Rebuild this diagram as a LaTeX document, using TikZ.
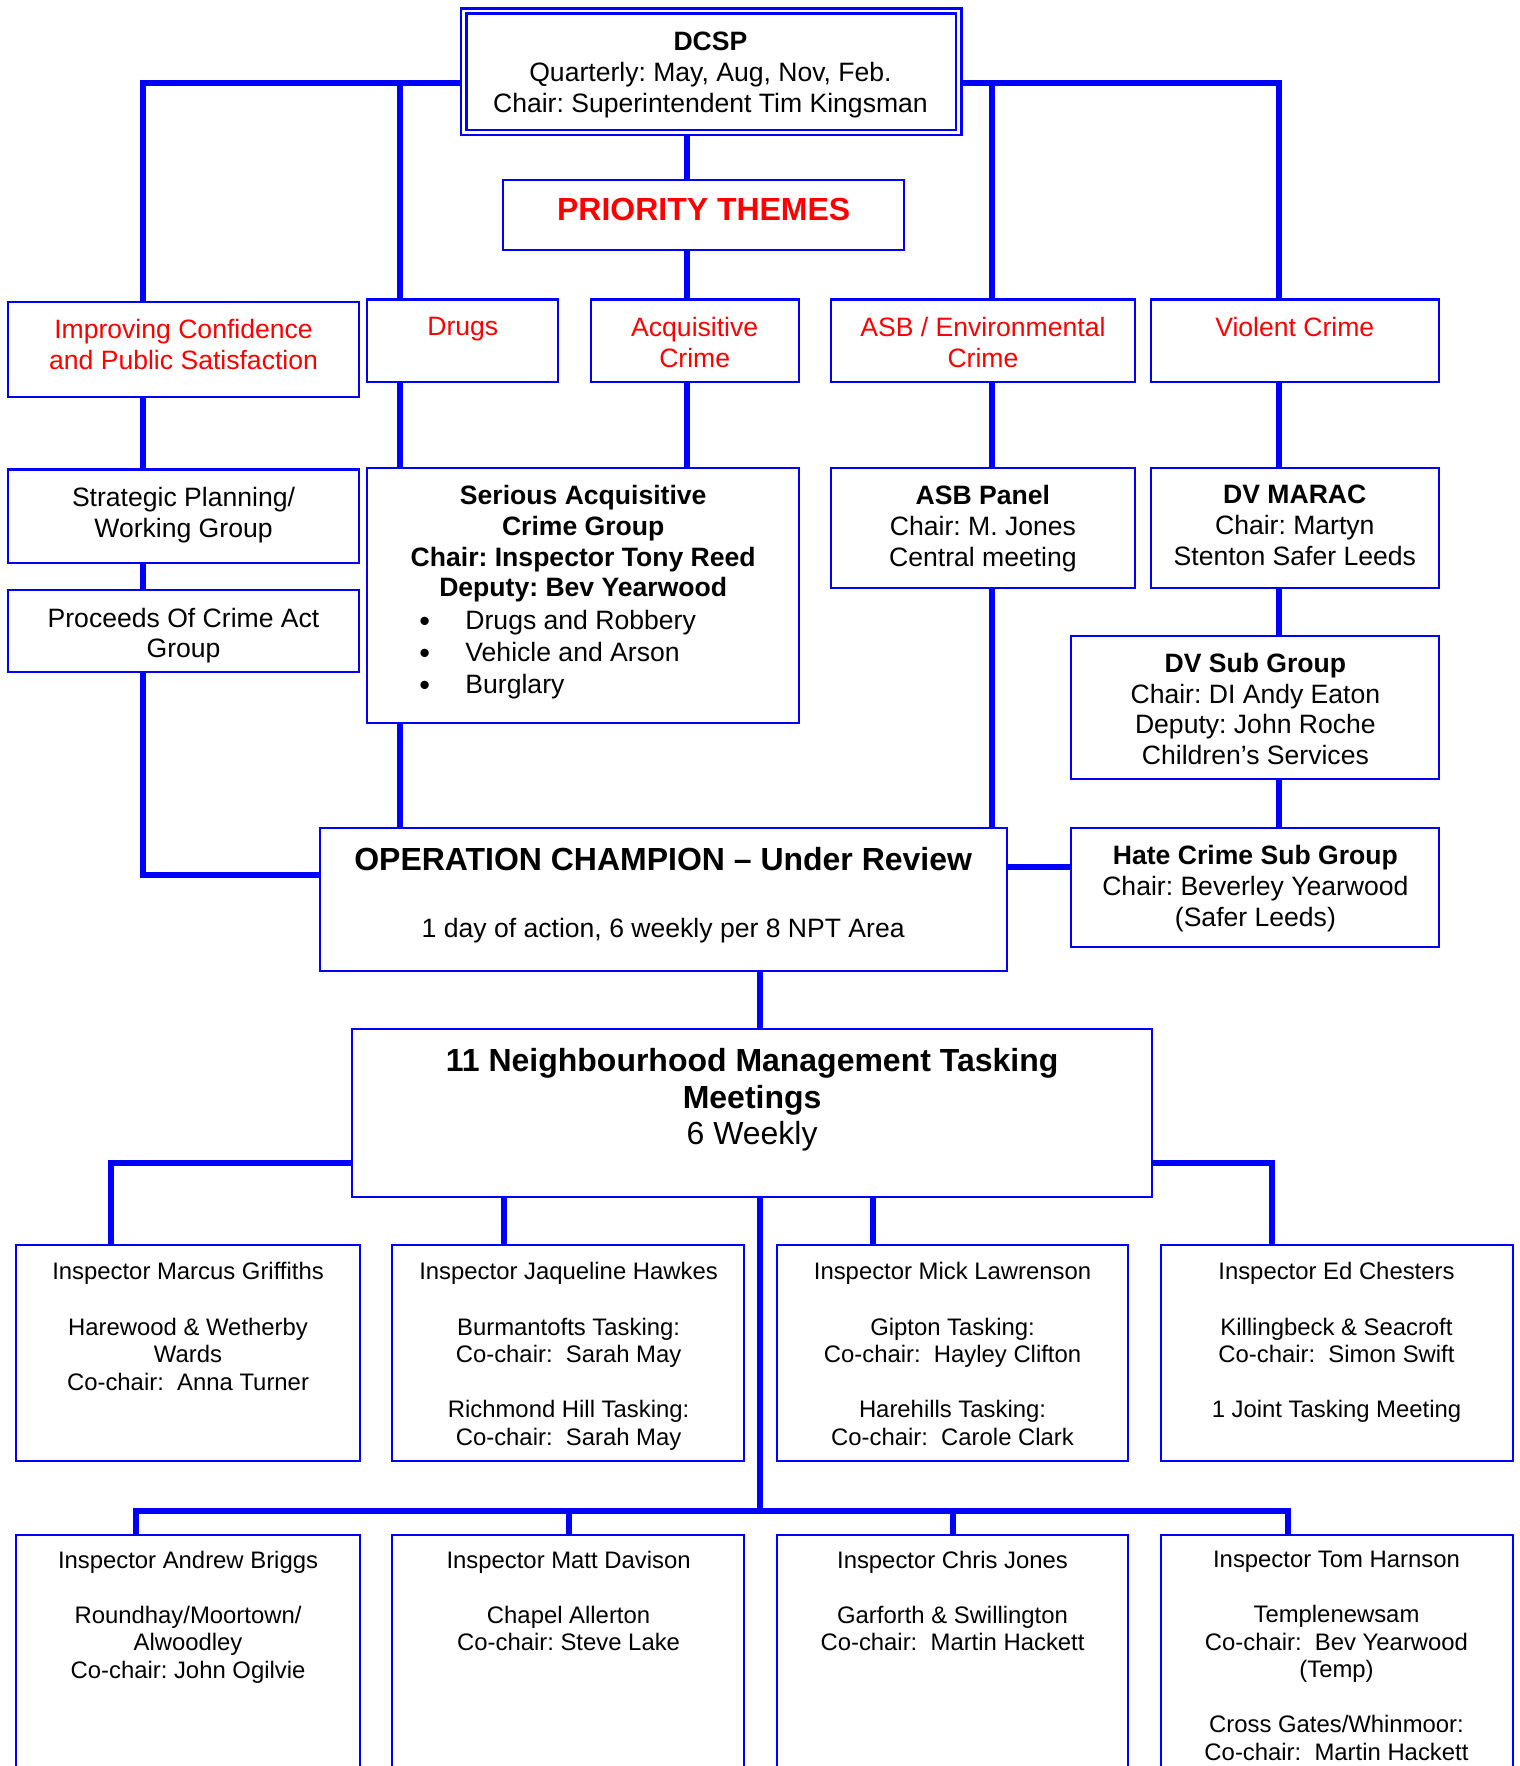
\documentclass[tikz,border=0pt]{standalone}
\usepackage{fontspec}
\usepackage{graphicx}
\setmainfont{Liberation Sans}
\usetikzlibrary{fit,calc}
\definecolor{lnblue}{RGB}{0,0,255}
\definecolor{thred}{RGB}{255,0,0}
\newcommand{\setfs}[2]{\fontsize{#1}{#2}\selectfont}
\newcommand{\bigbul}{\makebox[20.5pt][l]{\smash{\raisebox{-0.08em}{\scalebox{1.15}{\textbullet}}}}}
\frenchspacing
\begin{document}
\begin{tikzpicture}[x=0.5pt,y=-0.5pt,
  bx/.style={draw=lnblue,line width=0.9pt,inner sep=0pt,fit={#1}},
  conn/.style={draw=lnblue,line width=2.67pt},
  t/.style={inner sep=0pt,anchor=north,align=center,font=\setfs{11.8}{13.7}},
  tb/.style={t,font=\setfs{11.8}{13.7}\bfseries},
  tr/.style={t,text=thred},
  tins/.style={inner sep=0pt,anchor=north,align=center,font=\setfs{10.6}{12.25}}]
\useasboundingbox (0,0) rectangle (1350,1568.5);
\clip (0,0) rectangle (1350,1568.5);

% ---------- boxes ----------
\node[bx={(409.6,7.4) (854,120)},line width=1.1pt] (dcsp) {};
\draw[lnblue,line width=1.1pt] ($(dcsp.north west)+(5.8,5.8)$) rectangle ($(dcsp.south east)+(-5.8,-5.8)$);
\node[bx={(447,160) (803,222)}] (prio) {};
\node[bx={(7,268) (319,353)}] (improve) {};
\node[bx={(326,266) (496,339)}] (drugs) {};
\node[bx={(525,266) (710,339)}] (acq) {};
\node[bx={(738,266) (1008,339)}] (asb) {};
\node[bx={(1022,266) (1278,339)}] (violent) {};
\node[bx={(7,417) (319,500)}] (strat) {};
\node[bx={(7,524) (319,597)}] (poca) {};
\node[bx={(326,416) (710,642)}] (sac) {};
\node[bx={(738,416) (1008,522)}] (asbp) {};
\node[bx={(1022,416) (1278,522)}] (marac) {};
\node[bx={(951,565) (1278,692)}] (dvsub) {};
\node[bx={(951,735) (1278,841)}] (hate) {};
\node[bx={(284,735) (894,862)}] (op) {};
\node[bx={(313,914) (1023,1063)}] (nmt) {};
\node[bx={(14,1106) (320,1298)}] (r1a) {};
\node[bx={(348,1106) (661,1298)}] (r1b) {};
\node[bx={(690,1106) (1002,1298)}] (r1c) {};
\node[bx={(1031,1106) (1344,1298)}] (r1d) {};
\node[bx={(14,1363) (320,1620)}] (r2a) {};
\node[bx={(348,1363) (661,1620)}] (r2b) {};
\node[bx={(690,1363) (1002,1620)}] (r2c) {};
\node[bx={(1031,1363) (1344,1620)}] (r2d) {};

% ---------- connector guide coordinates ----------
\coordinate (xL) at (127,0);
\coordinate (xD) at (355,0);
\coordinate (xM) at (610,0);
\coordinate (xA) at (881,0);
\coordinate (xV) at (1136,0);
\coordinate (xT) at (675,0);
\coordinate (x1a) at (99,0);
\coordinate (x1b) at (448,0);
\coordinate (x1c) at (775,0);
\coordinate (x1d) at (1130,0);
\coordinate (x2a) at (121,0);
\coordinate (x2b) at (505,0);
\coordinate (x2c) at (846,0);
\coordinate (x2d) at (1144,0);
\coordinate (yT) at (0,74);
\coordinate (yOL) at (0,777);
\coordinate (yOH) at (0,770);
\coordinate (yN) at (0,1033);
\coordinate (yB) at (0,1342);

% ---------- connectors ----------
\draw[conn] (yT -| dcsp.west) -| (improve.north -| xL);
\draw[conn] (yT -| xD) -- (drugs.north -| xD);
\draw[conn] (dcsp.south -| xM) -- (prio.north -| xM);
\draw[conn] (prio.south -| xM) -- (acq.north -| xM);
\draw[conn] (yT -| dcsp.east) -| (violent.north -| xV);
\draw[conn] (yT -| xA) -- (asb.north -| xA);
\draw[conn] (improve.south -| xL) -- (strat.north -| xL);
\draw[conn] (strat.south -| xL) -- (poca.north -| xL);
\draw[conn] (poca.south -| xL) |- (yOL -| op.west);
\draw[conn] (drugs.south -| xD) -- (sac.north -| xD);
\draw[conn] (acq.south -| xM) -- (sac.north -| xM);
\draw[conn] (sac.south -| xD) -- (op.north -| xD);
\draw[conn] (asb.south -| xA) -- (asbp.north -| xA);
\draw[conn] (asbp.south -| xA) -- (op.north -| xA);
\draw[conn] (violent.south -| xV) -- (marac.north -| xV);
\draw[conn] (marac.south -| xV) -- (dvsub.north -| xV);
\draw[conn] (dvsub.south -| xV) -- (hate.north -| xV);
\draw[conn] (yOH -| op.east) -- (yOH -| hate.west);
\draw[conn] (op.south -| xT) -- (nmt.north -| xT);
\draw[conn] (yN -| nmt.west) -| (r1a.north -| x1a);
\draw[conn] (nmt.south -| x1b) -- (r1b.north -| x1b);
\draw[conn] (nmt.south -| x1c) -- (r1c.north -| x1c);
\draw[conn] (yN -| nmt.east) -| (r1d.north -| x1d);
\draw[conn] (nmt.south -| xT) -- (yB -| xT);
\draw[conn] (r2a.north -| x2a) |- (yB -| x2d) -- (r2d.north -| x2d);
\draw[conn] (yB -| x2b) -- (r2b.north -| x2b);
\draw[conn] (yB -| x2c) -- (r2c.north -| x2c);

% ---------- texts ----------
\node[t] (dcsp-t) at (631,28) {\textbf{DCSP}\\Quarterly: May, Aug, Nov, Feb.\\Chair: Superintendent Tim Kingsman};
\node[t,font=\setfs{14.2}{16}\bfseries,text=thred] (prio-t) at (625,176) {PRIORITY THEMES};
\node[tr] (improve-t) at (163,283.5) {Improving Confidence\\and Public Satisfaction};
\node[tr] (drugs-t) at (411,281.5) {Drugs};
\node[tr] (acq-t) at (617,281.5) {Acquisitive\\Crime};
\node[tr] (asb-t) at (873,281.5) {ASB / Environmental\\Crime};
\node[tr] (violent-t) at (1150,281.5) {Violent Crime};
\node[t] (strat-t) at (163,432.5) {Strategic Planning/\\Working Group};
\node[t] (poca-t) at (163,539.5) {Proceeds Of Crime Act\\Group};
\node[tb] (sac-t) at (518,430.5) {Serious Acquisitive\\Crime Group\\Chair: Inspector Tony Reed\\Deputy: Bev Yearwood};
\node[t,anchor=north west,align=left,font=\setfs{11.8}{14.25}] (sac-l) at (372,541.5)
  {\bigbul Drugs and Robbery\\\bigbul Vehicle and Arson\\\bigbul Burglary};
\node[t] (asbp-t) at (873,430.5) {\textbf{ASB Panel}\\Chair: M. Jones\\Central meeting};
\node[t] (marac-t) at (1150,430.5) {\textbf{DV MARAC}\\Chair: Martyn\\Stenton Safer Leeds};
\node[t] (dvsub-t) at (1115,579.5) {\textbf{DV Sub Group}\\Chair: DI Andy Eaton\\Deputy: John Roche\\Children’s Services};
\node[t] (hate-t) at (1115,750.5) {\textbf{Hate Crime Sub Group}\\Chair: Beverley Yearwood\\(Safer Leeds)};
\node[t,font=\setfs{14.2}{16}\bfseries] (op-t) at (589,752) {OPERATION CHAMPION – Under Review};
\node[t] (op-s) at (589,815.5) {1 day of action, 6 weekly per 8 NPT Area};
\node[t,font=\setfs{14.2}{16.25}] (nmt-t) at (668,930.8) {\textbf{11 Neighbourhood Management Tasking}\\\textbf{Meetings}\\6 Weekly};

\node[tins] (r1a-t) at (167,1121) {Inspector Marcus Griffiths\\[12.25pt]Harewood \& Wetherby\\Wards\\Co-chair:\ \ Anna Turner};
\node[tins] (r1b-t) at (505,1121) {Inspector Jaqueline Hawkes\\[12.25pt]Burmantofts Tasking:\\Co-chair:\ \ Sarah May\\[12.25pt]Richmond Hill Tasking:\\Co-chair:\ \ Sarah May};
\node[tins] (r1c-t) at (846,1121) {Inspector Mick Lawrenson\\[12.25pt]Gipton Tasking:\\Co-chair:\ \ Hayley Clifton\\[12.25pt]Harehills Tasking:\\Co-chair:\ \ Carole Clark};
\node[tins] (r1d-t) at (1187,1121) {Inspector Ed Chesters\\[12.25pt]Killingbeck \& Seacroft\\Co-chair:\ \ Simon Swift\\[12.25pt]1 Joint Tasking Meeting};

\node[tins] (r2a-t) at (167,1377) {Inspector Andrew Briggs\\[12.25pt]Roundhay/Moortown/\\Alwoodley\\Co-chair: John Ogilvie};
\node[tins] (r2b-t) at (505,1377) {Inspector Matt Davison\\[12.25pt]Chapel Allerton\\Co-chair: Steve Lake};
\node[tins] (r2c-t) at (846,1377) {Inspector Chris Jones\\[12.25pt]Garforth \& Swillington\\Co-chair:\ \ Martin Hackett};
\node[tins] (r2d-t) at (1187,1377) {Inspector Tom Harnson\\[12.25pt]Templenewsam\\Co-chair:\ \ Bev Yearwood\\(Temp)\\[12.25pt]Cross Gates/Whinmoor:\\Co-chair:\ \ Martin Hackett};
\end{tikzpicture}
\end{document}
